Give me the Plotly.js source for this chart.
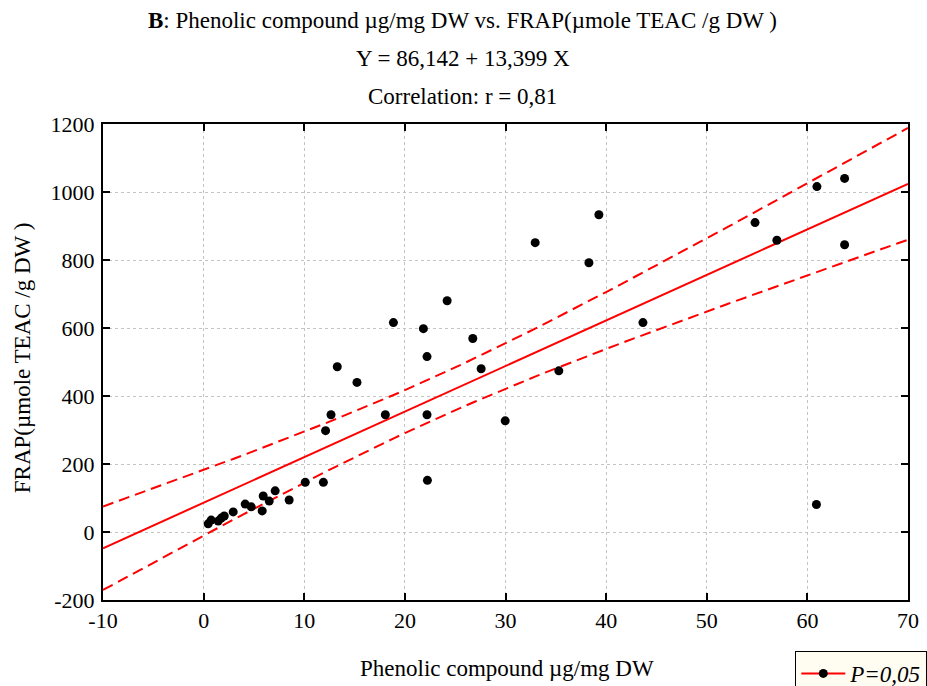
<!DOCTYPE html>
<html>
<head>
<meta charset="utf-8">
<script src="https://cdn.plot.ly/plotly-3.0.1.min.js"></script>
<style>html,body{margin:0;padding:0;background:#fff;}#chart{width:927px;height:686px;}</style>
</head>
<body>
<div id="chart"></div>
<script>
// Phenolic compound (µg/mg DW)
const phenolic = [0.45, 0.75, 1.45, 1.75, 2.05, 2.94, 4.13, 4.73, 5.82, 5.92, 6.52, 7.11, 8.5, 10.1, 11.9,
  12.12, 12.66, 13.28, 15.24, 18.06, 18.86, 21.84, 22.2, 22.2, 22.24, 24.2, 26.75, 27.58, 29.97,
  32.95, 35.3, 38.29, 39.28, 43.66,
  54.8, 56.97, 60.9, 60.95, 63.7, 63.7];
// FRAP (µmole TEAC /g DW)
const frap = [24, 35, 32, 41, 47, 59, 82, 74, 62, 106, 91, 121, 94, 146, 146,
  298, 345, 486, 440, 345, 616, 598, 516, 345, 152, 680, 569, 480, 327,
  851, 474, 792, 933, 616,
  910, 858, 81, 1016, 1040, 845];
const intercept = 86.142;
const slope = 13.399;
const xTicks = [-10, 0, 10, 20, 30, 40, 50, 60, 70];
const yTicks = [-200, 0, 200, 400, 600, 800, 1000, 1200];

// regression line and 95% confidence band computed from the data
const n = phenolic.length;
const xbar = phenolic.reduce((a, b) => a + b, 0) / n;
const sxx = phenolic.reduce((a, b) => a + (b - xbar) * (b - xbar), 0);
const sse = phenolic.reduce((a, b, i) => { const r = frap[i] - (intercept + slope * b); return a + r * r; }, 0);
const s = Math.sqrt(sse / (n - 2));
const tval = 2.024;
const gx = [], gy = [], gu = [], gl = [];
for (let x = -10; x <= 70.001; x += 1) {
  const yh = intercept + slope * x;
  const hw = tval * s * Math.sqrt(1 / n + (x - xbar) * (x - xbar) / sxx);
  gx.push(x); gy.push(yh); gu.push(yh + hw); gl.push(yh - hw);
}

const fam = '"Liberation Serif", "Times New Roman", serif';
const font = {family: fam, color: '#000', size: 22};
const tfont = {family: fam, color: '#000', size: 23};

const traces = [
  {x: gx, y: gu, mode: 'lines', line: {color: '#ff0000', width: 2, dash: '11px,6px'}, showlegend: false, hoverinfo: 'skip'},
  {x: gx, y: gl, mode: 'lines', line: {color: '#ff0000', width: 2, dash: '11px,6px'}, showlegend: false, hoverinfo: 'skip'},
  {x: gx, y: gy, mode: 'lines', line: {color: '#ff0000', width: 2}, showlegend: false},
  {x: phenolic, y: frap, mode: 'markers', marker: {color: '#000', size: 9}, showlegend: false},
  {x: [null], y: [null], mode: 'lines+markers', name: '<i>P=0,05</i>', line: {color: '#ff0000', width: 2}, marker: {color: '#000', size: 9}}
];

const axisCommon = {
  showline: true, linecolor: '#000', linewidth: 2, mirror: 'ticks',
  ticks: 'inside', ticklen: 7, tickwidth: 2, tickcolor: '#000',
  showgrid: true, gridcolor: '#c4c4c4', griddash: 'dot', gridwidth: 1,
  zeroline: false, tickfont: font
};

const layout = {
  width: 927, height: 686,
  margin: {l: 103, r: 19, t: 124, b: 86, autoexpand: false},
  paper_bgcolor: '#fff', plot_bgcolor: '#fff',
  font: font,
  xaxis: Object.assign({}, axisCommon, {range: [-10, 70], tickvals: xTicks, ticktext: xTicks.map(String)}),
  yaxis: Object.assign({}, axisCommon, {range: [-200, 1200], tickvals: yTicks, ticktext: yTicks.map(String), ticklabelstandoff: 2}),
  legend: {x: 0.86, y: -0.107, xanchor: 'left', yanchor: 'top', itemwidth: 44, bgcolor: '#fffcf2', bordercolor: '#000', borderwidth: 1, font: tfont},
  annotations: [
    {text: '<b>B</b>: Phenolic compound µg/mg DW vs. FRAP(µmole TEAC /g DW )', xref: 'paper', yref: 'paper', x: 0.447, y: 1.218, xanchor: 'center', yanchor: 'middle', showarrow: false, font: tfont},
    {text: 'Y = 86,142 + 13,399 X', xref: 'paper', yref: 'paper', x: 0.447, y: 1.1366, xanchor: 'center', yanchor: 'middle', showarrow: false, font: tfont},
    {text: 'Correlation: r = 0,81', xref: 'paper', yref: 'paper', x: 0.447, y: 1.0588, xanchor: 'center', yanchor: 'middle', showarrow: false, font: tfont},
    {text: 'Phenolic compound µg/mg DW', xref: 'paper', yref: 'paper', x: 0.502, y: -0.143, xanchor: 'center', yanchor: 'middle', showarrow: false, font: tfont},
    {text: 'FRAP(µmole TEAC /g DW )', xref: 'paper', yref: 'paper', x: -0.1006, y: 0.508, xanchor: 'center', yanchor: 'middle', textangle: -90, showarrow: false, font: tfont}
  ]
};

Plotly.newPlot('chart', traces, layout, {displayModeBar: false, staticPlot: true});
</script>
</body>
</html>
